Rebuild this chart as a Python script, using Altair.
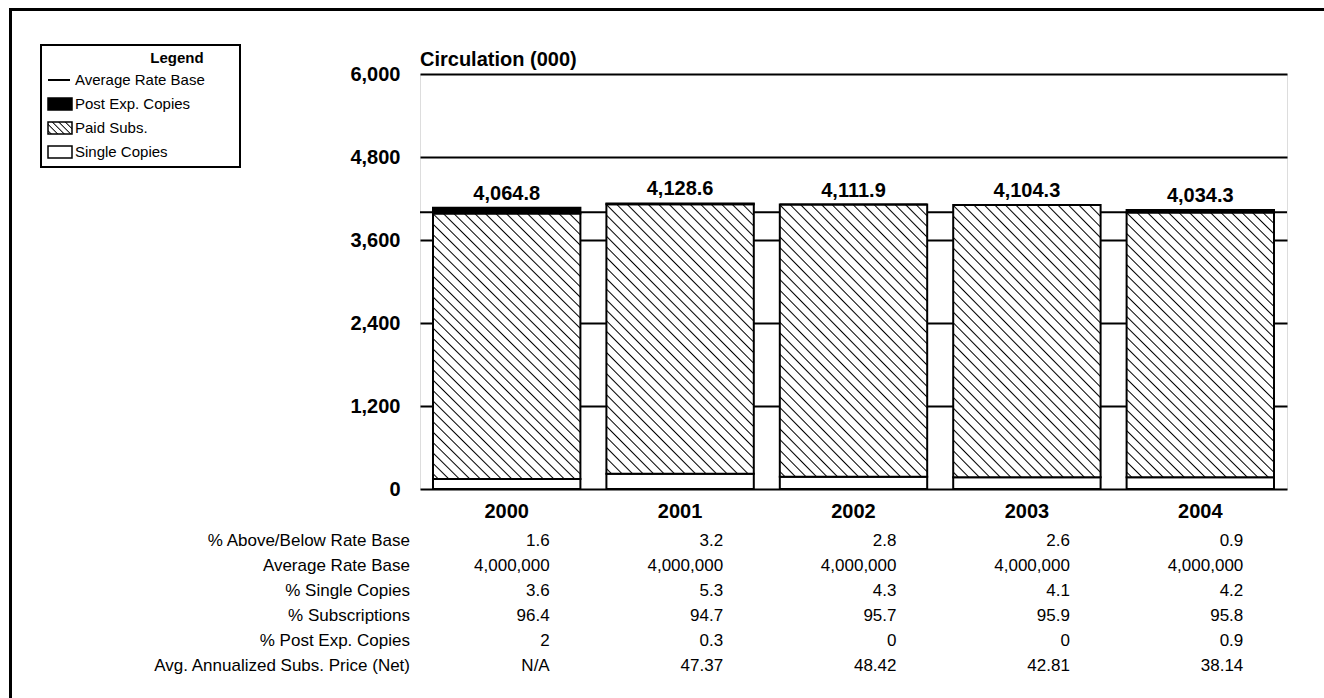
import math
import altair as alt
import pandas as pd

# ---------------- data ----------------
years = ["2000", "2001", "2002", "2003", "2004"]
total_circ = [4064.8, 4128.6, 4111.9, 4104.3, 4034.3]   # thousands
pct_single = [3.6, 5.3, 4.3, 4.1, 4.2]
pct_subs = [96.4, 94.7, 95.7, 95.9, 95.8]
pct_post = [2, 0.3, 0, 0, 0.9]
pct_above = [1.6, 3.2, 2.8, 2.6, 0.9]
avg_rate_base = [4000000, 4000000, 4000000, 4000000, 4000000]
subs_price = ["N/A", "47.37", "48.42", "42.81", "38.14"]

row_labels = ["% Above/Below Rate Base", "Average Rate Base", "% Single Copies",
              "% Subscriptions", "% Post Exp. Copies", "Avg. Annualized Subs. Price (Net)"]
legend_labels = ["Average Rate Base", "Post Exp. Copies", "Paid Subs.", "Single Copies"]
y_ticks = [0, 1200, 2400, 3600, 4800, 6000]
chart_title = "Circulation (000)"

FONT = "Liberation Sans"

# ---------------- tables ----------------
bars = pd.DataFrame({"year": years, "total": total_circ,
                     "ps": pct_single, "pp": pct_post,
                     "rate": [v / 1000 for v in avg_rate_base]})

def g(v):
    return f"{v:g}"

rows_vals = [
    [g(v) for v in pct_above],
    [f"{v:,}" for v in avg_rate_base],
    [g(v) for v in pct_single],
    [g(v) for v in pct_subs],
    [g(v) for v in pct_post],
    subs_price,
]
tab = pd.DataFrame([{"row": r, "year": y, "txt": vals[i]}
                    for r, vals in zip(row_labels, rows_vals)
                    for i, y in enumerate(years)])
rowdf = pd.DataFrame({"row": row_labels})
legdf = pd.DataFrame({"lab": legend_labels})
one = pd.DataFrame({"k": [0]})

# ---------------- hatch gradient (diagonal "\" lines) ----------------
def hatch(W, H, step_h, lw):
    L = (W + H) / math.sqrt(2)
    p = step_h / math.sqrt(2)
    t = (W + H) / (W * W + H * H)
    x2, y2 = t * W, 1 - t * H
    a = lw / L
    stops = [alt.GradientStop(offset=0, color="white")]
    c = p / 2 / L
    while c + a < 1:
        stops.append(alt.GradientStop(offset=round(c - a, 5), color="white"))
        stops.append(alt.GradientStop(offset=round(c, 5), color="black"))
        stops.append(alt.GradientStop(offset=round(c + a, 5), color="white"))
        c += p / L
    stops.append(alt.GradientStop(offset=1, color="white"))
    return alt.LinearGradient(gradient="linear", stops=stops,
                              x1=0, y1=1, x2=round(x2, 5), y2=round(y2, 5))

bar_hatch = hatch(147.4, 268, 10.5, 1.0)
leg_hatch = hatch(24, 12, 6.5, 0.9)

# ---------------- scales / axes ----------------
xscale = alt.Scale(domain=years, paddingInner=0.15, paddingOuter=0.075)
xaxis = alt.Axis(labelAngle=0, labelFont=FONT, labelFontSize=20, labelFontWeight="bold",
                 labelColor="black", labelPadding=12, ticks=False, domain=False,
                 grid=False, title=None)
X = alt.X("year:N", scale=xscale, axis=xaxis)

yscale = alt.Scale(domain=[0, 6000], nice=False, zero=True)
yaxis = alt.Axis(values=y_ticks, format=",d", labelFont=FONT, labelFontSize=20,
                 labelFontWeight="bold", labelColor="black", labelPadding=20,
                 ticks=False, domain=False, grid=True, gridColor="black",
                 gridWidth=2, gridOpacity=1, title=None)

base = alt.Chart(bars).transform_calculate(
    single="datum.total * datum.ps / 100",
    post="datum.total * datum.pp / 100",
).transform_calculate(
    ptop="datum.total - datum.post",
    zero="0",
)

rate_rule = alt.Chart(bars).mark_rule(color="black", strokeWidth=2).encode(
    y=alt.Y("mean(rate):Q", scale=yscale, axis=yaxis),
    x=alt.value(0), x2=alt.value(867),
)

single_bar = base.mark_bar(fill="white", stroke="black", strokeWidth=2).encode(
    x=X, y=alt.Y("zero:Q", scale=yscale, axis=yaxis), y2="single:Q")
paid_bar = base.mark_bar(fill=bar_hatch, stroke="black", strokeWidth=2).encode(
    x=X, y=alt.Y("single:Q", scale=yscale, axis=yaxis), y2="ptop:Q")
post_bar = base.mark_bar(fill="black", stroke="black", strokeWidth=2).encode(
    x=X, y=alt.Y("ptop:Q", scale=yscale, axis=yaxis), y2="total:Q")
labels = base.mark_text(font=FONT, fontSize=20, fontWeight="bold", color="black",
                        baseline="alphabetic", dy=-8).encode(
    x=X, y=alt.Y("total:Q", scale=yscale, axis=yaxis),
    text=alt.Text("total:Q", format=",.1f"))

main = alt.layer(rate_rule, single_bar, paid_bar, post_bar, labels)

# ---------------- data table under the chart ----------------
rscale = alt.Scale(domain=row_labels, range=[467, 592], padding=0)
tab_vals = alt.Chart(tab).mark_text(font=FONT, fontSize=17, color="black",
                                     align="right", baseline="middle", dx=43).encode(
    x=X, y=alt.Y("row:N", scale=rscale, axis=None, sort=row_labels), text="txt:N")
tab_rows = alt.Chart(rowdf).mark_text(font=FONT, fontSize=17, color="black",
                                       align="right", baseline="middle").encode(
    x=alt.value(-10), y=alt.Y("row:N", scale=rscale, axis=None, sort=row_labels), text="row:N")
table = alt.layer(tab_vals, tab_rows)

# ---------------- legend ----------------
lscale = alt.Scale(domain=legend_labels, range=[6, 78], padding=0)
LY = alt.Y("lab:N", scale=lscale, axis=None, sort=legend_labels)
leg_box = alt.Chart(one).mark_rect(fill="white", stroke="black", strokeWidth=2).encode(
    x=alt.value(-379), x2=alt.value(-180), y=alt.value(-29), y2=alt.value(93))
leg_title = alt.Chart(one).mark_text(text="Legend", font=FONT, fontSize=15, fontWeight="bold",
                                     color="black", align="center", baseline="middle").encode(
    x=alt.value(-243), y=alt.value(-16))
leg_text = alt.Chart(legdf).mark_text(font=FONT, fontSize=15, color="black",
                                      align="left", baseline="middle").encode(
    x=alt.value(-345), y=LY, text="lab:N")
rect_path = "M-1,-0.5L1,-0.5L1,0.5L-1,0.5Z"
leg_line = alt.Chart(legdf).transform_filter(alt.datum.lab == legend_labels[0]).mark_point(
    shape="M-1,0L1,0", size=484, filled=False, stroke="black", strokeWidth=2, opacity=1).encode(
    x=alt.value(-361), y=LY)
leg_post = alt.Chart(legdf).transform_filter(alt.datum.lab == legend_labels[1]).mark_point(
    shape=rect_path, size=576, filled=True, fill="black", stroke="black", strokeWidth=1.5,
    opacity=1).encode(x=alt.value(-360), y=LY)
leg_paid = alt.Chart(legdf).transform_filter(alt.datum.lab == legend_labels[2]).mark_point(
    shape=rect_path, size=576, filled=True, fill=leg_hatch, stroke="black", strokeWidth=1.5,
    opacity=1).encode(x=alt.value(-360), y=LY)
leg_single = alt.Chart(legdf).transform_filter(alt.datum.lab == legend_labels[3]).mark_point(
    shape=rect_path, size=576, filled=True, fill="white", stroke="black", strokeWidth=1.5,
    opacity=1).encode(x=alt.value(-360), y=LY)
legend = alt.layer(leg_box, leg_title, leg_text, leg_line, leg_post, leg_paid, leg_single)

# ---------------- title and page frame ----------------
title = alt.Chart(one).mark_text(text=chart_title, font=FONT, fontSize=20, fontWeight="bold",
                                 color="black", align="left", baseline="alphabetic").encode(
    x=alt.value(0), y=alt.value(-8))
frame_left = alt.Chart(one).mark_rule(color="black", strokeWidth=3).encode(
    x=alt.value(-409.5), y=alt.value(-66), y2=alt.value(640))
frame_top = alt.Chart(one).mark_rule(color="black", strokeWidth=3).encode(
    x=alt.value(-411), x2=alt.value(920), y=alt.value(-64.5))

chart = alt.layer(frame_left, frame_top, title, legend, main, table).resolve_scale(
    y="independent"
).properties(
    width=867, height=415,
    padding={"left": 420, "top": 74, "right": 37, "bottom": 209},
    autosize=alt.AutoSizeParams(type="none"),
).configure_view(stroke="black", strokeWidth=2.5).configure(background="white")

chart.save("out.html", embed_options={"renderer": "svg", "actions": False})
